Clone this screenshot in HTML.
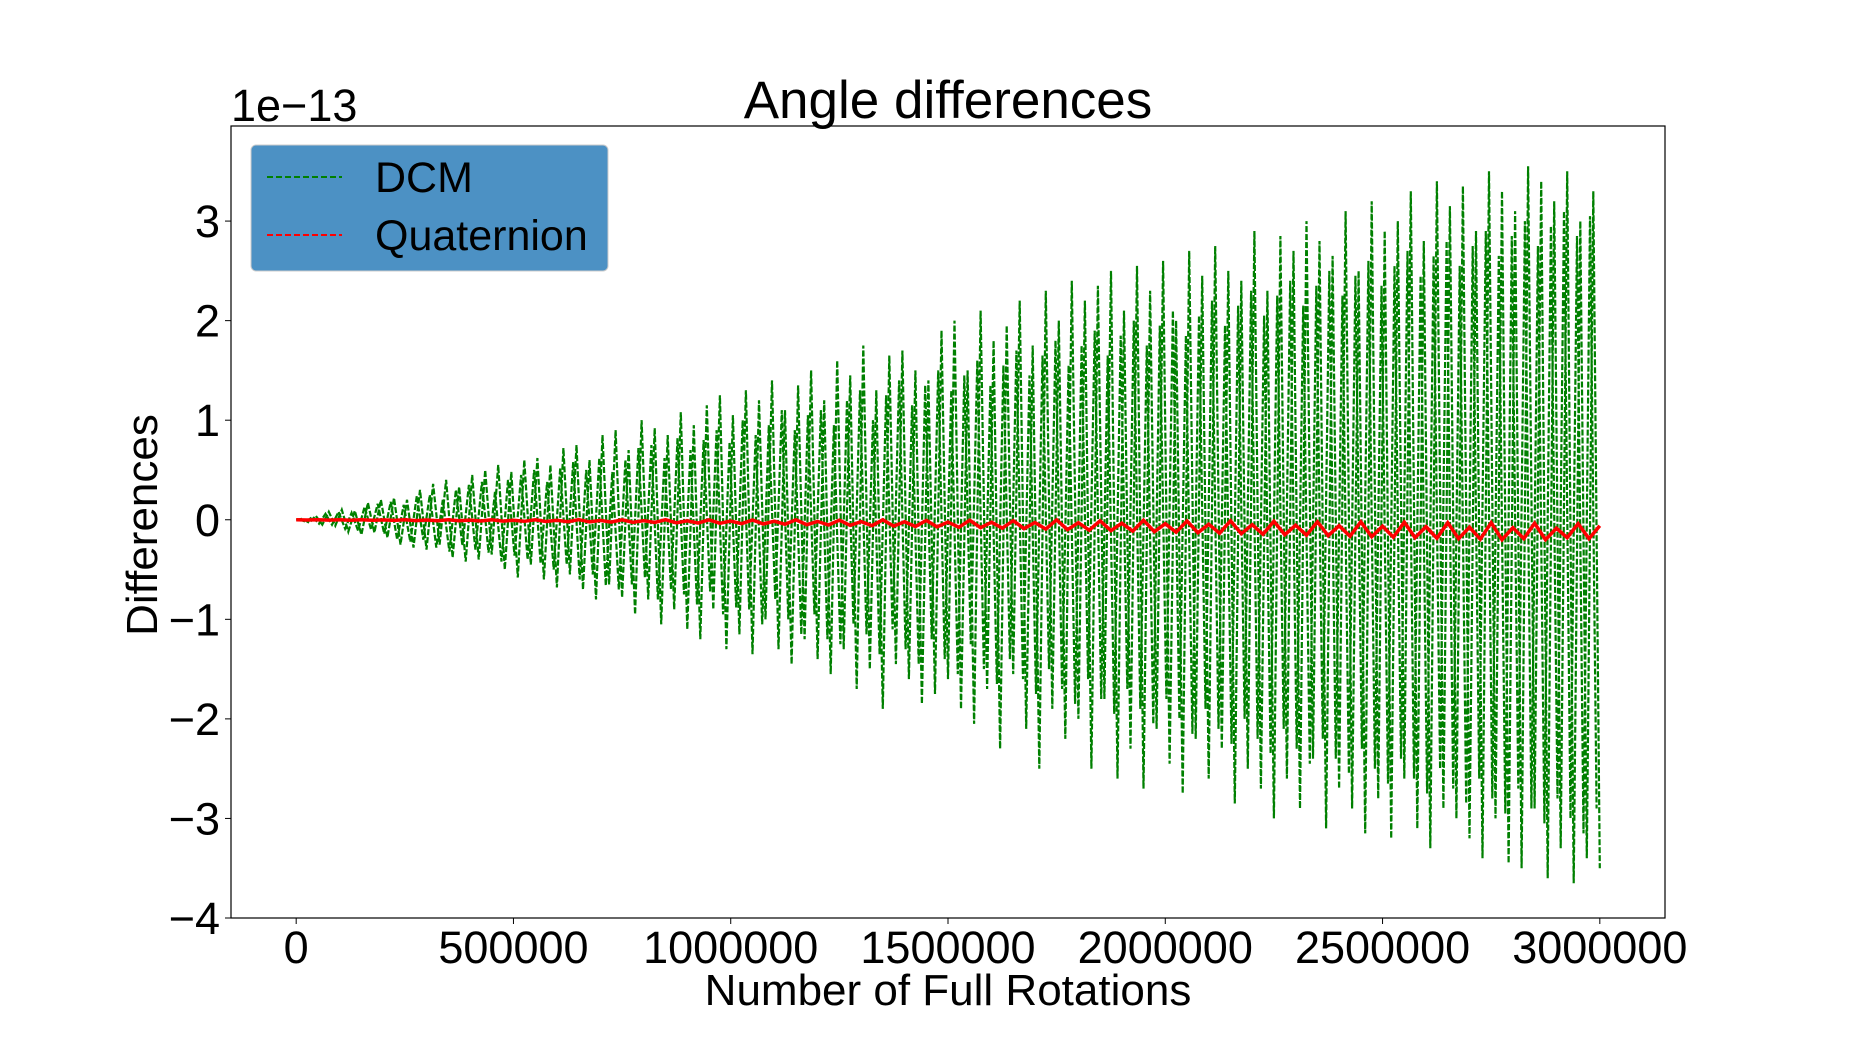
<!DOCTYPE html>
<html><head><meta charset="utf-8"><style>
html,body{margin:0;padding:0;background:#fff;}
svg{display:block;font-family:"Liberation Sans","DejaVu Sans",sans-serif;}
</style></head><body>
<svg id="chart" width="1850" height="1050" viewBox="0 0 1850 1050">
<rect x="0" y="0" width="1850" height="1050" fill="#fff"/>
<text x="948" y="118" font-size="53" text-anchor="middle">Angle differences</text>
<text x="231" y="121" font-size="45">1e−13</text>
<g id="plot"></g>
<g id="axes"></g>
<text x="948" y="1005" font-size="44" text-anchor="middle">Number of Full Rotations</text>
<text transform="translate(157,525) rotate(-90)" font-size="44" text-anchor="middle">Differences</text>
<g>
<rect x="251" y="145" width="357" height="126" rx="5" fill="#4c91c4" stroke="#ccc" stroke-width="1"/>
<line x1="267" y1="177" x2="342" y2="177" stroke="green" stroke-width="2" stroke-dasharray="6,3"/>
<text x="375" y="192" font-size="43">DCM</text>
<line x1="267" y1="235" x2="342" y2="235" stroke="red" stroke-width="2" stroke-dasharray="6,3"/>
<text x="375" y="250" font-size="43">Quaternion</text>
</g>
</svg>
<script>
const dcmStep = 15000;
const dcmValues = [0,0.01,-0.03,0.04,-0.05,0.08,-0.06,0.1,-0.12,0.09,-0.15,0.17,-0.13,0.2,-0.18,0.22,-0.25,0.2,-0.28,0.3,
-0.3,0.36,-0.25,0.4,-0.38,0.33,-0.42,0.45,-0.4,0.5,-0.35,0.55,-0.5,0.48,-0.58,0.6,-0.45,0.62,-0.6,0.55,
-0.68,0.72,-0.55,0.75,-0.7,0.6,-0.8,0.85,-0.65,0.9,-0.78,0.7,-0.95,1.0,-0.8,0.92,-1.05,0.85,-0.9,1.08,
-1.1,0.95,-1.2,1.15,-0.9,1.25,-1.3,1.05,-1.15,1.3,-1.35,1.2,-1.0,1.4,-1.3,1.1,-1.45,1.35,-1.2,1.5,
-1.4,1.2,-1.55,1.6,-1.3,1.45,-1.7,1.75,-1.5,1.3,-1.9,1.65,-1.45,1.7,-1.6,1.5,-1.85,1.4,-1.75,1.9,
-1.6,2.0,-1.9,1.5,-2.05,2.1,-1.7,1.8,-2.3,1.95,-1.55,2.2,-2.1,1.75,-2.5,2.3,-1.9,2.0,-2.2,2.4,
-2.0,2.2,-2.5,2.35,-1.8,2.5,-2.6,2.1,-2.3,2.55,-2.7,2.3,-2.1,2.6,-2.45,2.0,-2.75,2.7,-2.2,2.45,
-2.6,2.75,-2.3,2.5,-2.85,2.4,-2.5,2.9,-2.7,2.3,-3.0,2.85,-2.6,2.7,-2.9,3.0,-2.4,2.8,-3.1,2.65,
-2.7,3.1,-2.9,2.5,-3.15,3.2,-2.8,2.9,-3.2,3.0,-2.6,3.3,-3.1,2.8,-3.3,3.4,-2.9,3.15,-3.0,3.35,
-3.2,2.9,-3.4,3.5,-3.0,3.3,-3.45,3.1,-3.5,3.55,-2.9,3.4,-3.6,3.2,-3.3,3.5,-3.65,3.0,-3.4,3.3,-3.5];
const dcmInnerStart = 7500;
const dcmInnerValues = [0.005,-0.02,0.03,-0.04,0.06,-0.05,0.08,-0.09,0.07,-0.11,0.13,-0.1,0.16,-0.14,0.18,-0.2,0.15,-0.22,0.24,-0.2,
0.25,-0.28,0.2,-0.32,0.3,-0.26,0.35,-0.3,0.38,-0.33,0.28,-0.42,0.4,-0.36,0.45,-0.4,0.5,-0.44,0.38,-0.5,
0.52,-0.45,0.58,-0.6,0.5,-0.55,0.62,-0.66,0.48,-0.7,0.6,-0.65,0.72,-0.58,0.75,-0.8,0.62,-0.7,0.82,-0.75,
0.7,-0.85,0.8,-0.72,0.9,-0.95,0.78,-0.88,1.0,-0.9,0.85,-1.05,0.95,-0.8,1.1,-1.0,0.9,-1.15,1.05,-0.95,
1.1,-1.2,0.95,-1.25,1.2,-1.05,1.3,-1.15,1.0,-1.35,1.25,-1.1,1.4,-1.3,1.15,-1.45,1.35,-1.2,1.5,-1.4,
1.3,-1.55,1.45,-1.25,1.6,-1.5,1.35,-1.65,1.55,-1.4,1.7,-1.6,1.45,-1.75,1.65,-1.5,1.8,-1.7,1.55,-1.85,
1.75,-1.6,1.9,-1.8,1.65,-1.95,1.85,-1.7,2.0,-1.9,1.75,-2.05,1.95,-1.8,2.1,-2.0,1.85,-2.15,2.05,-1.9,
2.2,-2.1,1.95,-2.25,2.15,-2.0,2.3,-2.2,2.05,-2.35,2.25,-2.1,2.4,-2.3,2.15,-2.45,2.35,-2.2,2.5,-2.4,
2.25,-2.55,2.45,-2.3,2.6,-2.5,2.35,-2.65,2.55,-2.4,2.7,-2.6,2.45,-2.75,2.65,-2.5,2.8,-2.7,2.55,-2.85,
2.75,-2.6,2.9,-2.8,2.65,-2.95,2.85,-2.7,3.0,-2.9,2.75,-3.05,2.95,-2.8,3.1,-3.0,2.85,-3.15,3.05,-2.9];
const quatStep = 25000;
const quatValues = [0,-0.002,0.001,-0.003,0.0,-0.004,0.001,-0.005,-0.001,-0.006,0.0,-0.008,-0.002,-0.009,0.001,-0.01,-0.003,-0.012,0.0,-0.013,
-0.004,-0.015,0.0,-0.017,-0.005,-0.019,0.002,-0.021,-0.006,-0.024,0.0,-0.026,-0.008,-0.028,0.001,-0.031,-0.01,-0.034,0.0,-0.036,
-0.012,-0.04,-0.002,-0.043,-0.014,-0.046,0.0,-0.05,-0.016,-0.053,-0.004,-0.057,-0.018,-0.06,0.0,-0.064,-0.02,-0.068,-0.006,-0.072,
-0.022,-0.076,-0.004,-0.08,-0.025,-0.085,-0.008,-0.09,-0.028,-0.094,0.0,-0.1,-0.03,-0.105,-0.01,-0.11,-0.035,-0.115,-0.005,-0.12,
-0.04,-0.125,-0.012,-0.13,-0.045,-0.135,-0.01,-0.14,-0.05,-0.145,-0.015,-0.15,-0.055,-0.155,-0.02,-0.16,-0.06,-0.165,-0.02,-0.17,
-0.065,-0.175,-0.025,-0.18,-0.07,-0.185,-0.03,-0.19,-0.075,-0.195,-0.03,-0.2,-0.08,-0.19,-0.035,-0.2,-0.085,-0.18,-0.04,-0.19,-0.06];
const xTicks = [0,500000,1000000,1500000,2000000,2500000,3000000];
const xTickLabels = ["0","500000","1000000","1500000","2000000","2500000","3000000"];
const yTicks = [-4,-3,-2,-1,0,1,2,3];
const yTickLabels = ["−4","−3","−2","−1","0","1","2","3"];

const L=231,R=1665,T=126,B=918;
const xMin=-150000,xMax=3150000,yMin=-4,yMax=3.955;
const xs=v=>L+(v-xMin)/(xMax-xMin)*(R-L);
const ys=v=>B-(v-yMin)/(yMax-yMin)*(B-T);
const NS="http://www.w3.org/2000/svg";
const plot=document.getElementById('plot'), axes=document.getElementById('axes');

let d=dcmInnerValues.map((v,i)=>(i?'L':'M')+xs(dcmInnerStart+i*dcmStep).toFixed(1)+','+ys(v).toFixed(1)).join('');
const g2=document.createElementNS(NS,'path');
g2.setAttribute('d',d);g2.setAttribute('fill','none');g2.setAttribute('stroke','green');
g2.setAttribute('stroke-width','2.2');g2.setAttribute('stroke-dasharray','6,2');


plot.appendChild(g2);

d=dcmValues.map((v,i)=>(i?'L':'M')+xs(i*dcmStep).toFixed(1)+','+ys(v).toFixed(1)).join('');
const g=document.createElementNS(NS,'path');
g.setAttribute('d',d);g.setAttribute('fill','none');g.setAttribute('stroke','green');
g.setAttribute('stroke-width','2.2');g.setAttribute('stroke-dasharray','6,2');


plot.appendChild(g);

d=quatValues.map((v,i)=>(i?'L':'M')+xs(i*quatStep).toFixed(1)+','+ys(v).toFixed(1)).join('');
const r=document.createElementNS(NS,'path');
r.setAttribute('d',d);r.setAttribute('fill','none');r.setAttribute('stroke','red');r.setAttribute('stroke-width','3.5');


plot.appendChild(r);

const frame=document.createElementNS(NS,'rect');
frame.setAttribute('x',L);frame.setAttribute('y',T);frame.setAttribute('width',R-L);frame.setAttribute('height',B-T);
frame.setAttribute('fill','none');frame.setAttribute('stroke','#000');frame.setAttribute('stroke-width','1.2');


axes.appendChild(frame);

xTicks.forEach((v,i)=>{
  const x=xs(v);
  const t=document.createElementNS(NS,'line');
  t.setAttribute('x1',x);t.setAttribute('x2',x);t.setAttribute('y1',B);t.setAttribute('y2',B+6);t.setAttribute('stroke','#000');
  
  
  axes.appendChild(t);
  const tx=document.createElementNS(NS,'text');
  tx.setAttribute('x',x);tx.setAttribute('y',B+45);tx.setAttribute('font-size','45');tx.setAttribute('text-anchor','middle');
  tx.textContent=xTickLabels[i];
  
  
  axes.appendChild(tx);
});
yTicks.forEach((v,i)=>{
  const y=ys(v);
  const t=document.createElementNS(NS,'line');
  t.setAttribute('x1',L-6);t.setAttribute('x2',L);t.setAttribute('y1',y);t.setAttribute('y2',y);t.setAttribute('stroke','#000');
  
  
  axes.appendChild(t);
  const tx=document.createElementNS(NS,'text');
  tx.setAttribute('x',L-11);tx.setAttribute('y',y+16);tx.setAttribute('font-size','45');tx.setAttribute('text-anchor','end');
  tx.textContent=yTickLabels[i];
  
  
  axes.appendChild(tx);
});
</script>
</body></html>
